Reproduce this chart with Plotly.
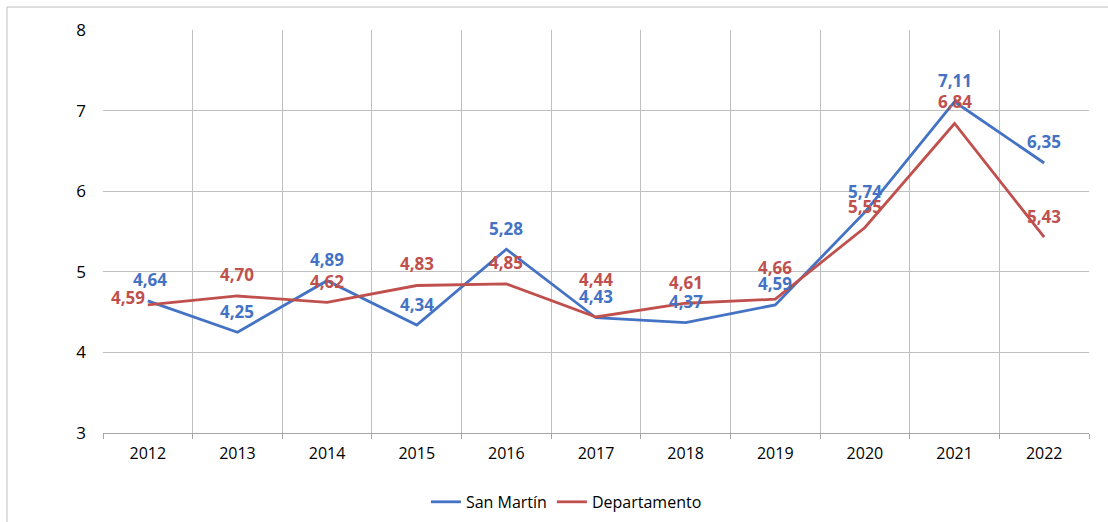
import plotly.graph_objects as go

# datos
anios = ["2012", "2013", "2014", "2015", "2016", "2017", "2018", "2019", "2020", "2021", "2022"]
san_martin = [4.64, 4.25, 4.89, 4.34, 5.28, 4.43, 4.37, 4.59, 5.74, 7.11, 6.35]
departamento = [4.59, 4.70, 4.62, 4.83, 4.85, 4.44, 4.61, 4.66, 5.55, 6.84, 5.43]

AZUL = "#4472C4"
ROJO = "#C0504D"
FUENTE = "Open Sans"

# desplazamiento de las etiquetas (px)
dy_sm = [21] * 11
dx_sm = [2] + [0] * 10
dy_dep = [7, 21, 21, 22, 21, 37, 21, 32, 21, 22, 21]
dx_dep = [-20] + [0] * 10


def fmt(v):
    return f"{v:.2f}".replace(".", ",")


fig = go.Figure()
fig.add_trace(go.Scatter(x=anios, y=san_martin, mode="lines", name="San Martín",
                         line=dict(color=AZUL, width=2.8)))
fig.add_trace(go.Scatter(x=anios, y=departamento, mode="lines", name="Departamento",
                         line=dict(color=ROJO, width=2.8)))

anots = []
for i, a in enumerate(anios):
    # en eje de categorías la anotación se ubica por índice
    anots.append(dict(x=i, y=departamento[i], xref="x", yref="y", text=fmt(departamento[i]),
                      showarrow=False, yshift=dy_dep[i], xshift=dx_dep[i],
                      font=dict(family=FUENTE, size=17, color=ROJO, weight="bold")))
    anots.append(dict(x=i, y=san_martin[i], xref="x", yref="y", text=fmt(san_martin[i]),
                      showarrow=False, yshift=dy_sm[i], xshift=dx_sm[i],
                      font=dict(family=FUENTE, size=17, color=AZUL, weight="bold")))

fig.update_layout(
    width=1108, height=522,
    margin=dict(l=103, r=19, t=30, b=89, autoexpand=False),
    paper_bgcolor="white", plot_bgcolor="white",
    font=dict(family=FUENTE, size=16, color="black"),
    annotations=anots,
    showlegend=True,
    legend=dict(orientation="h", x=0.47, xanchor="center", y=-0.171, yanchor="middle",
                font=dict(size=16), itemwidth=30, tracegroupgap=20),
    shapes=[dict(type="rect", xref="paper", yref="paper", x0=-0.0974, x1=1.2, y0=-0.4, y1=1.057,
                 line=dict(color="#BFBFBF", width=1))],
)
fig.update_xaxes(type="category", range=[-0.5, 10.5], tickson="boundaries", showgrid=True,
                 gridcolor="#BFBFBF", gridwidth=1, ticks="outside", ticklen=5,
                 tickcolor="#A6A6A6", showline=True, linecolor="#A6A6A6", linewidth=1,
                 mirror=False, tickfont=dict(size=16), ticklabelstandoff=6, tickangle=0,
                 automargin=False)
fig.update_yaxes(range=[3, 8], dtick=1, showgrid=True, gridcolor="#BFBFBF", gridwidth=1,
                 zeroline=False, showline=False, ticks="", tickfont=dict(size=17),
                 ticklabelstandoff=16, automargin=False)

fig.write_html("out.html", config={"displayModeBar": False},
               post_script="document.body.style.margin='0';document.body.style.overflow='hidden';")
